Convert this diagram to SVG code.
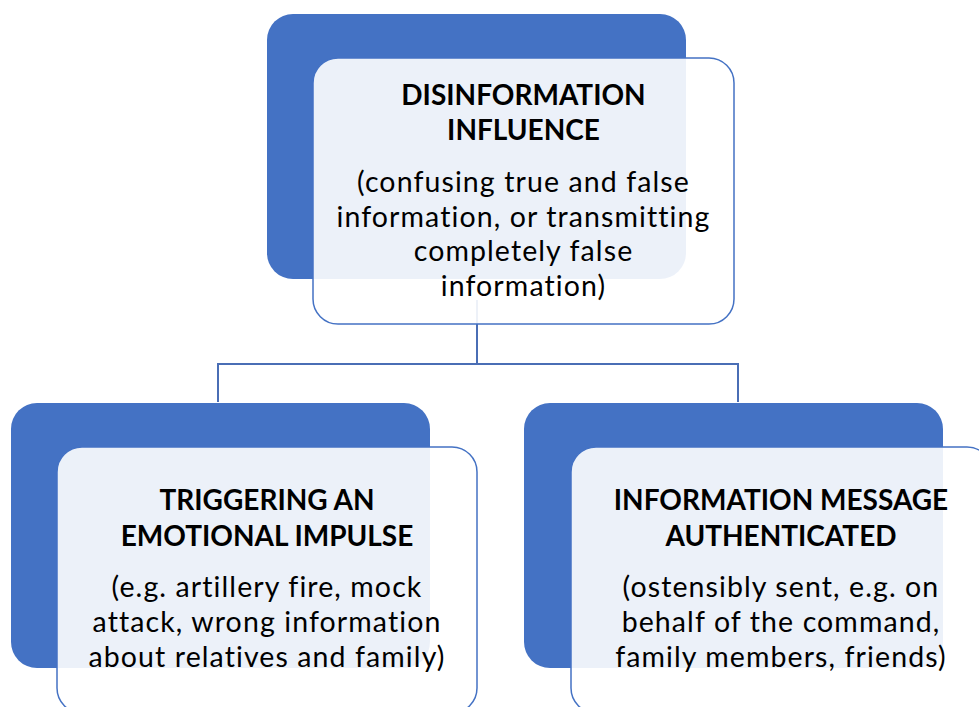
<svg xmlns="http://www.w3.org/2000/svg" width="979" height="707" viewBox="0 0 979 707">
<style>
.back{fill:#4472C4;}
.front{fill:#FFFFFF;fill-opacity:0.9;stroke:#4472C4;stroke-width:1.5;}
.conn{fill:none;stroke:#4A6EB5;stroke-width:2;}
.t{font-family:Lato,"Liberation Sans",sans-serif;font-size:28.5px;fill:#000;text-anchor:middle;font-variant-ligatures:none;letter-spacing:1.1px;}
.b{font-weight:bold;font-size:28px;letter-spacing:0;}
</style>
<rect width="979" height="707" fill="#FFFFFF"/>
<g id="connectors">
<path class="conn" d="M477,300 V364 M218,364 H738 M218,363 V402 M738,363 V402"/>
</g>
<g id="node-top">
<rect class="back" x="267" y="14" width="419" height="265" rx="26"/>
<rect class="front" x="313" y="58" width="421" height="266" rx="25"/>
<text class="t b" x="523.5" y="105">DISINFORMATION</text>
<text class="t b" x="523.5" y="140">INFLUENCE</text>
<text class="t" x="523.5" y="192">(confusing true and false</text>
<text class="t" x="523.5" y="227">information, or transmitting</text>
<text class="t" x="523.5" y="261">completely false</text>
<text class="t" x="523.5" y="296">information)</text>
</g>
<g id="node-left">
<rect class="back" x="11" y="403" width="419" height="265" rx="26"/>
<rect class="front" x="57" y="447" width="420" height="266" rx="25"/>
<text class="t b" x="267" y="510">TRIGGERING AN</text>
<text class="t b" x="267" y="546">EMOTIONAL IMPULSE</text>
<text class="t" x="267" y="597">(e.g. artillery fire, mock</text>
<text class="t" x="267" y="632">attack, wrong information</text>
<text class="t" x="267" y="667">about relatives and family)</text>
</g>
<g id="node-right">
<rect class="back" x="524" y="403" width="419" height="265" rx="26"/>
<rect class="front" x="571" y="447" width="421" height="266" rx="25"/>
<text class="t b" x="781" y="510">INFORMATION MESSAGE</text>
<text class="t b" x="781" y="546">AUTHENTICATED</text>
<text class="t" x="781" y="597">(ostensibly sent, e.g. on</text>
<text class="t" x="781" y="632">behalf of the command,</text>
<text class="t" x="781" y="667">family members, friends)</text>
</g>
</svg>
